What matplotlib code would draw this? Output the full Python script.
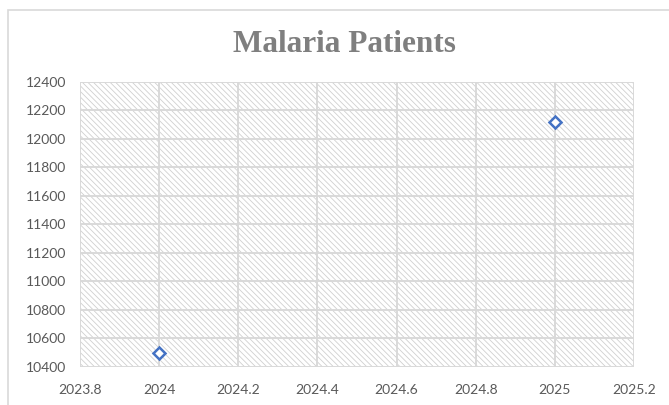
import matplotlib
matplotlib.use("Agg")
import matplotlib.pyplot as plt
from matplotlib.patches import Rectangle

years = [2024, 2025]
patients = [10500, 12120]
xticks = [2023.8, 2024.0, 2024.2, 2024.4, 2024.6, 2024.8, 2025.0, 2025.2]
xticklabels = ["2023.8", "2024", "2024.2", "2024.4", "2024.6", "2024.8", "2025", "2025.2"]
yticks = list(range(10400, 12401, 200))

W, H = 669, 405
fig = plt.figure(figsize=(W/100, H/100), dpi=100)
fig.patch.set_facecolor("white")

# chart frame (cut off at right/bottom)
fig.patches.append(Rectangle((8/W, -0.1), 1.2, (H-10)/H + 0.1, transform=fig.transFigure,
                             fill=False, edgecolor="#d9d9d9", linewidth=1.2))

x0, x1 = 80, 634
y0, y1 = 82, 367
ax = fig.add_axes([x0/W, 1 - y1/H, (x1-x0)/W, (y1-y0)/H])
ax.set_xlim(2023.8, 2025.2)
ax.set_ylim(10400, 12400)

plt.rcParams['hatch.color'] = '#d0d0d0'
plt.rcParams['hatch.linewidth'] = 0.6
bg = Rectangle((0, 0), 1, 1, transform=ax.transAxes, facecolor="white",
               edgecolor="#d0d0d0", hatch="\\\\\\\\\\\\", linewidth=0, zorder=0)
ax.add_patch(bg)

ax.set_xticks(xticks)
ax.set_xticklabels(xticklabels)
ax.set_yticks(yticks)
ax.grid(True, color="#d9d9d9", linewidth=1.4)
ax.set_axisbelow(True)
for s in ax.spines.values():
    s.set_visible(False)
ax.tick_params(length=0, labelsize=10, colors="#595959")
ax.tick_params(axis="x", pad=12)
ax.tick_params(axis="y", pad=10)
for lab in ax.get_xticklabels() + ax.get_yticklabels():
    lab.set_family("Lato")

ax.plot(years, patients, linestyle="none", marker="D", markersize=6.5,
        markerfacecolor="white", markeredgecolor="#4472C4", markeredgewidth=1.8,
        zorder=5, clip_on=False)

fig.text(344/W, 1 - 44/H, "Malaria Patients", ha="center", va="center",
         fontsize=22.5, fontweight="bold", color="#7f7f7f", family="Liberation Serif")

fig.savefig("out.png", dpi=100)
